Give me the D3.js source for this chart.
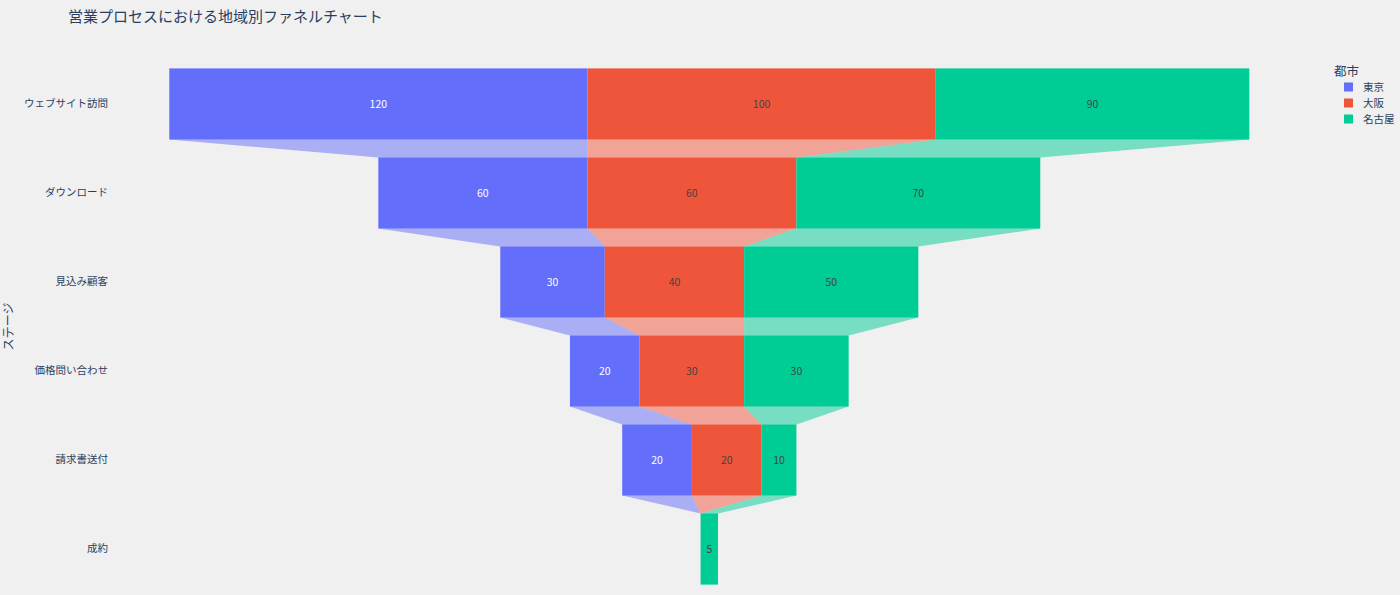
<!DOCTYPE html>
<html>
<head>
<meta charset="utf-8">
<script src="https://cdn.jsdelivr.net/npm/d3@7"></script>
<style>
  html, body { margin: 0; padding: 0; background: #f0f0f0; }
  svg { display: block; font-family: "Noto Sans CJK JP", "Noto Sans", sans-serif; }
</style>
</head>
<body>
<svg id="chart" width="1400" height="595"></svg>
<script>
const stages = ["ウェブサイト訪問", "ダウンロード", "見込み顧客", "価格問い合わせ", "請求書送付", "成約"];
const cities = ["東京", "大阪", "名古屋"];
const tokyo = [120, 60, 30, 20, 20, 0];
const osaka = [100, 60, 40, 30, 20, 0];
const nagoya = [90, 70, 50, 30, 10, 5];
const colors = ["#636efa", "#EF553B", "#00cc96"];
const textColors = ["#ffffff", "#444444", "#444444"];
const titleText = "営業プロセスにおける地域別ファネルチャート";
const yTitle = "ステージ";
const legendTitle = "都市";

const seriesValues = [tokyo, osaka, nagoya];
const svg = d3.select("#chart");
const W = 1400, H = 595;
const FONT = "'Noto Sans CJK JP', 'Noto Sans', sans-serif";

svg.append("rect").attr("width", W).attr("height", H).attr("fill", "#f0f0f0");

const totals = stages.map((s, i) => d3.sum(seriesValues, v => v[i]));
const maxTotal = d3.max(totals);
const x = d3.scaleLinear().domain([-maxTotal / 2, maxTotal / 2]).range([169.3, 1249.3]);
const y = d3.scaleBand().domain(stages).range([59.5, 593.5]).paddingInner(0.2).paddingOuter(0.1);

const bars = seriesValues.map((vals, si) => stages.map((st, i) => {
  let start = -totals[i] / 2;
  for (let k = 0; k < si; k++) start += seriesValues[k][i];
  return { stage: st, i, si, v: vals[i], x0: x(start), x1: x(start + vals[i]), y0: y(st), y1: y(st) + y.bandwidth() };
}));

const g = svg.append("g");
bars.forEach((series, si) => {
  const gs = g.append("g");
  for (let i = 0; i < series.length - 1; i++) {
    const a = series[i], b = series[i + 1];
    const pts = [[a.x0, a.y1], [b.x0, b.y0], [b.x1, b.y0], [a.x1, a.y1]];
    gs.append("path")
      .attr("d", d3.line()(pts) + "Z")
      .attr("fill", colors[si]).attr("fill-opacity", 0.5);
  }
  gs.selectAll("rect.bar").data(series).join("rect")
    .attr("class", "bar")
    .attr("x", d => d.x0).attr("y", d => d.y0)
    .attr("width", d => Math.max(0, d.x1 - d.x0)).attr("height", y.bandwidth())
    .attr("fill", colors[si]);
  gs.selectAll("text.lbl").data(series.filter(d => d.v > 0)).join("text")
    .attr("class", "lbl")
    .attr("x", d => (d.x0 + d.x1) / 2).attr("y", d => (d.y0 + d.y1) / 2)
    .attr("dy", "0.35em").attr("text-anchor", "middle")
    .attr("font-size", 10.5).attr("fill", textColors[si])
    .text(d => d.v);
});

const yAxis = d3.axisLeft(y).tickSize(0).tickPadding(0);
const ya = svg.append("g").attr("transform", "translate(108,0)").call(yAxis);
ya.select(".domain").remove();
ya.selectAll("text").attr("font-size", 10.5).attr("fill", "#2a3f5f")
  .attr("font-family", FONT);

svg.append("text")
  .attr("transform", `translate(13,${(59.5 + 593.5) / 2}) rotate(-90)`)
  .attr("text-anchor", "middle").attr("font-size", 12).attr("fill", "#2a3f5f")
  .text(yTitle);

svg.append("text").attr("x", 68).attr("y", 22)
  .attr("font-size", 15).attr("fill", "#2a3f5f").text(titleText);

const lg = svg.append("g");
lg.append("text").attr("x", 1334).attr("y", 76).attr("font-size", 12.5).attr("fill", "#2a3f5f").text(legendTitle);
cities.forEach((c, i) => {
  const cy = 87 + i * 16;
  lg.append("rect").attr("x", 1344).attr("y", cy - 4.5).attr("width", 9).attr("height", 9).attr("fill", colors[i]);
  lg.append("text").attr("x", 1363).attr("y", cy).attr("dy", "0.35em")
    .attr("font-size", 10.5).attr("fill", "#2a3f5f").text(c);
});
</script>
</body>
</html>
